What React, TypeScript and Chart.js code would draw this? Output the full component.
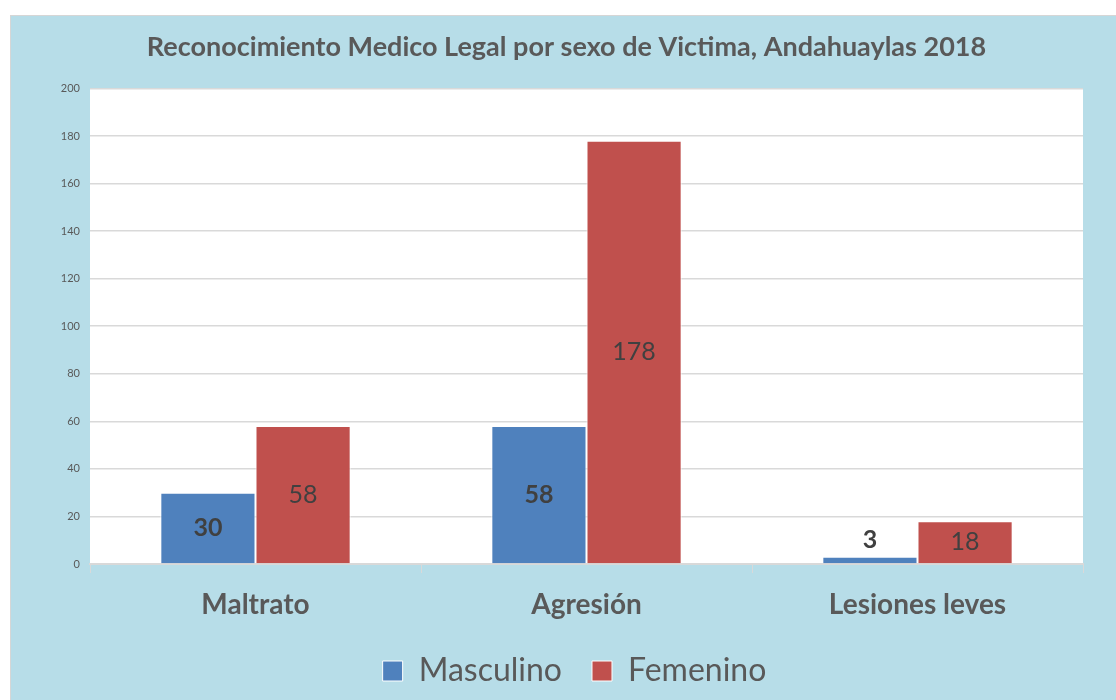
import React, { useEffect, useRef } from "react";
import { Chart, registerables } from "chart.js";

Chart.register(...registerables);

const categories = ["Maltrato", "Agresión", "Lesiones leves"];
const masculino = [30, 58, 3];
const femenino = [58, 178, 18];
const seriesNames = ["Masculino", "Femenino"];
const titleText = "Reconocimiento Medico Legal por sexo de Victima, Andahuaylas 2018";

const FONT = "Lato, 'Open Sans', sans-serif";

const bgPlugin = {
  id: "plotBg",
  afterLayout(chart: any) {
    if (chart.legend) {
      chart.legend.left += 8;
      chart.legend.right += 8;
    }
  },
  beforeDraw(chart: any) {
    const { ctx, chartArea } = chart;
    ctx.save();
    ctx.fillStyle = "#ffffff";
    ctx.fillRect(chartArea.left, chartArea.top, chartArea.right - chartArea.left, chartArea.bottom - chartArea.top);
    ctx.restore();
  },
};

const labelPlugin = {
  id: "barLabels",
  afterDatasetsDraw(chart: any) {
    const { ctx } = chart;
    ctx.save();
    ctx.fillStyle = "#404040";
    ctx.textAlign = "center";
    ctx.textBaseline = "middle";
    chart.data.datasets.forEach((ds: any, di: number) => {
      const meta = chart.getDatasetMeta(di);
      ctx.font = (di === 0 ? "bold " : "") + "25px " + FONT;
      meta.data.forEach((bar: any, i: number) => {
        const v = ds.data[i];
        const h = bar.base - bar.y;
        let y = (bar.y + bar.base) / 2;
        if (h < 30) y = bar.y - 17;
        ctx.fillText(String(v), bar.x, y);
      });
    });
    ctx.restore();
  },
};

export default function App() {
  const ref = useRef<HTMLCanvasElement>(null);
  useEffect(() => {
    const chart = new Chart(ref.current!, {
      type: "bar",
      data: {
        labels: categories,
        datasets: [
          { label: seriesNames[0], data: masculino, backgroundColor: "#4f81bd", borderColor: "#ffffff", borderWidth: 1 },
          { label: seriesNames[1], data: femenino, backgroundColor: "#c0504d", borderColor: "#ffffff", borderWidth: 1 },
        ],
      },
      options: {
        responsive: false,
        animation: false,
        layout: { padding: { left: 39, right: 48, top: 0, bottom: 3 } },
        datasets: { bar: { categoryPercentage: 0.575, barPercentage: 1 } },
        plugins: {
          title: {
            display: true,
            text: titleText,
            color: "#595959",
            font: { family: FONT, size: 27, weight: "bold" },
            padding: { top: 15, bottom: 25 },
          },
          legend: {
            position: "bottom",
            labels: {
              color: "#595959",
              font: { family: FONT, size: 32 },
              boxWidth: 20,
              boxHeight: 20,
              padding: 30,
            },
          },
          tooltip: { enabled: false },
        },
        scales: {
          x: {
            afterFit(scale: any) { scale.height = 61; },
            grid: { drawOnChartArea: false, drawTicks: true, tickLength: 9, color: "#d9d9d9", offset: true },
            border: { color: "#d9d9d9", width: 2 },
            ticks: { color: "#595959", font: { family: FONT, size: 28, weight: "bold" }, padding: 15 },
          },
          y: {
            min: 0,
            max: 200,
            afterFit(scale: any) { scale.width = 40; },
            grid: { color: "#d9d9d9", lineWidth: 1.5, drawTicks: false },
            border: { display: false },
            ticks: { stepSize: 20, color: "#595959", font: { family: FONT, size: 11 }, padding: 10 },
          },
        },
      },
      plugins: [bgPlugin, labelPlugin],
    });
    return () => chart.destroy();
  }, []);
  return (
    <div style={{ position: "fixed", left: 0, top: 0, width: 1116, height: 700, overflow: "hidden", background: "#ffffff" }}>
      <div
        style={{
          position: "absolute",
          left: 10,
          top: 15,
          width: 1120,
          height: 700,
          background: "#b7dde8",
          borderLeft: "1px solid #d6d6d6",
          borderTop: "1px solid #d6d6d6",
        }}
      >
        <canvas ref={ref} width={1120} height={684} style={{ display: "block" }} />
      </div>
    </div>
  );
}
